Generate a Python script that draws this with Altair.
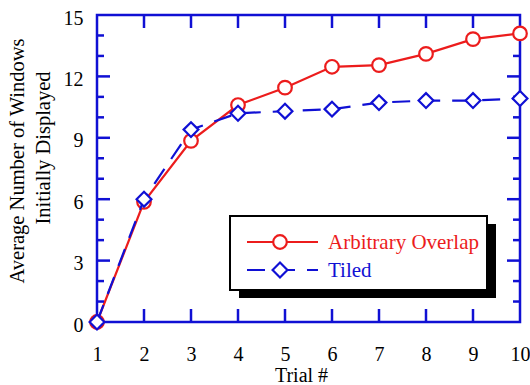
import altair as alt
import pandas as pd

# ---- data ----
trials = [1, 2, 3, 4, 5, 6, 7, 8, 9, 10]
overlap = [0, 5.87, 8.85, 10.6, 11.45, 12.47, 12.55, 13.1, 13.82, 14.1]
tiled = [0, 6.0, 9.4, 10.2, 10.3, 10.4, 10.72, 10.82, 10.82, 10.92]
series_names = ["Arbitrary Overlap", "Tiled"]
y_title_lines = ["Average Number of Windows", "Initially Displayed"]
x_title = "Trial #"
x_ticks = [1, 2, 3, 4, 5, 6, 7, 8, 9, 10]
y_ticks = [0, 3, 6, 9, 12, 15]
y_minor = [1, 2, 4, 5, 7, 8, 10, 11, 13, 14]

RED = "#ec1c1c"
BLUE = "#1010d4"
FONT = "Liberation Serif"
W, H = 423, 307

df_o = pd.DataFrame({"trial": trials, "value": overlap})
df_t = pd.DataFrame({"trial": trials, "value": tiled})

xs = alt.Scale(domain=[1, 10])
ys = alt.Scale(domain=[0, 15])

x_axis = alt.Axis(values=x_ticks, title=x_title, domain=False, ticks=False, grid=False,
                  labelPadding=22, labelFontSize=20, labelFont=FONT, labelColor="black",
                  titleFont=FONT, titleFontSize=20, titleFontWeight="normal", titleColor="black",
                  titleX=204, titleY=59, titleBaseline="alphabetic", titleAlign="center",
                  labelFlush=False)
y_axis = alt.Axis(values=y_ticks, title=None,
                  domain=False, ticks=False, grid=False,
                  labelPadding=14, labelFontSize=20, labelFont=FONT, labelColor="black",
                  labelOffset=3, labelFlush=False)


def X(field):
    return alt.X(field, scale=xs, axis=x_axis)


def Y(field):
    return alt.Y(field, scale=ys, axis=y_axis)


line_o = alt.Chart(df_o).mark_line(color=RED, strokeWidth=2.2).encode(
    x=X("trial:Q"), y=Y("value:Q"))
pts_o = alt.Chart(df_o).mark_point(shape="circle", filled=True, fill="white", stroke=RED,
                                   strokeWidth=2.2, size=185, opacity=1).encode(
    x=X("trial:Q"), y=Y("value:Q"))
line_t = alt.Chart(df_t).mark_line(color=BLUE, strokeWidth=2.2, strokeDash=[18, 12]).encode(
    x=X("trial:Q"), y=Y("value:Q"))
pts_t = alt.Chart(df_t).mark_point(shape="diamond", filled=True, fill="white", stroke=BLUE,
                                   strokeWidth=2.2, size=220, opacity=1).encode(
    x=X("trial:Q"), y=Y("value:Q"))

# inward ticks
inner_x = pd.DataFrame({"trial": x_ticks[1:-1]})
inner_y = pd.DataFrame({"value": y_ticks[1:-1]})
minor_y = pd.DataFrame({"value": y_minor})
tick_style = dict(color=BLUE, strokeWidth=2.5)
ticks = [
    alt.Chart(inner_x).mark_rule(**tick_style).encode(
        x=X("trial:Q"), y=alt.value(H), y2=alt.value(H - 13)),
    alt.Chart(inner_x).mark_rule(**tick_style).encode(
        x=X("trial:Q"), y=alt.value(0), y2=alt.value(13)),
    alt.Chart(inner_y).mark_rule(**tick_style).encode(
        y=Y("value:Q"), x=alt.value(0), x2=alt.value(13)),
    alt.Chart(inner_y).mark_rule(**tick_style).encode(
        y=Y("value:Q"), x=alt.value(W), x2=alt.value(W - 13)),
    alt.Chart(minor_y).mark_rule(**tick_style).encode(
        y=Y("value:Q"), x=alt.value(0), x2=alt.value(7)),
    alt.Chart(minor_y).mark_rule(**tick_style).encode(
        y=Y("value:Q"), x=alt.value(W), x2=alt.value(W - 7)),
]

one = pd.DataFrame({"k": [0]})

# y-axis title, two rotated lines
ytitle1 = alt.Chart(one).mark_text(angle=270, align="center", baseline="alphabetic", font=FONT,
                                   fontSize=20.5, color="black").encode(
    x=alt.value(-73), y=alt.value(146), text=alt.value(y_title_lines[0]))
ytitle2 = alt.Chart(one).mark_text(angle=270, align="center", baseline="alphabetic", font=FONT,
                                   fontSize=20.5, color="black").encode(
    x=alt.value(-47), y=alt.value(133), text=alt.value(y_title_lines[1]))

# legend (drawn by hand, with a drop shadow)
shadow = alt.Chart(one).mark_rect(color="black").encode(
    x=alt.value(142), x2=alt.value(399), y=alt.value(209), y2=alt.value(283))
box = alt.Chart(one).mark_rect(fill="white", stroke="black", strokeWidth=2).encode(
    x=alt.value(133), x2=alt.value(390), y=alt.value(201), y2=alt.value(275))
leg_line_o = alt.Chart(one).mark_rule(color=RED, strokeWidth=2.2).encode(
    x=alt.value(150), x2=alt.value(221), y=alt.value(227))
leg_pt_o = alt.Chart(one).mark_point(shape="circle", filled=True, fill="white", stroke=RED,
                                     strokeWidth=2.2, size=185, opacity=1).encode(
    x=alt.value(183), y=alt.value(227))
leg_txt_o = alt.Chart(one).mark_text(align="left", baseline="middle", font=FONT, fontSize=21,
                                     color=RED).encode(
    x=alt.value(231), y=alt.value(228), text=alt.value(series_names[0]))
leg_line_t = alt.Chart(one).mark_rule(color=BLUE, strokeWidth=2.2, strokeDash=[18, 12]).encode(
    x=alt.value(150), x2=alt.value(221), y=alt.value(255))
leg_pt_t = alt.Chart(one).mark_point(shape="diamond", filled=True, fill="white", stroke=BLUE,
                                     strokeWidth=2.2, size=220, opacity=1).encode(
    x=alt.value(183), y=alt.value(255))
leg_txt_t = alt.Chart(one).mark_text(align="left", baseline="middle", font=FONT, fontSize=21,
                                     color=BLUE).encode(
    x=alt.value(231), y=alt.value(256), text=alt.value(series_names[1]))

chart = alt.layer(
    line_o, *ticks, pts_o, line_t, pts_t, ytitle1, ytitle2,
    shadow, box, leg_line_o, leg_pt_o, leg_txt_o, leg_line_t, leg_pt_t, leg_txt_t,
).properties(
    width=W, height=H,
    autosize=alt.AutoSizeParams(type="none"),
    padding={"left": 97, "top": 15, "right": 10, "bottom": 63},
    background="white",
).configure_view(stroke=BLUE, strokeWidth=2.5)

chart.save("out.html", embed_options={"renderer": "svg", "actions": False})
